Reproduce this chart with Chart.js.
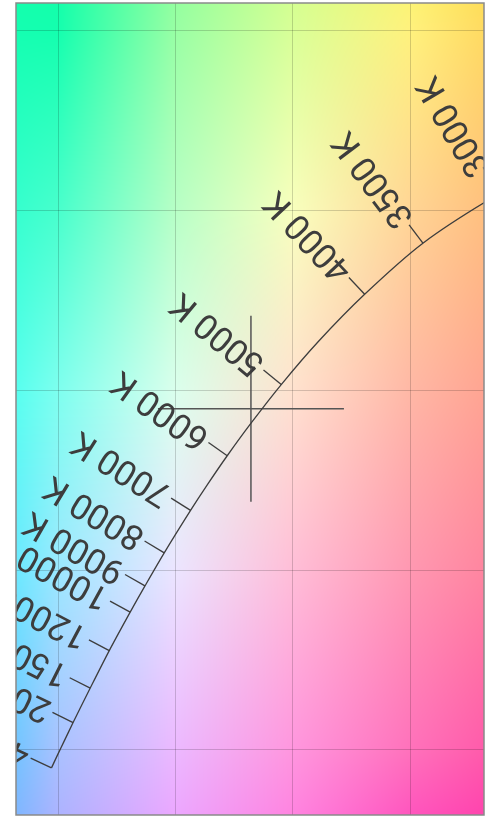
<!DOCTYPE html>
<html>
<head>
<meta charset="utf-8">
<script src="https://cdn.jsdelivr.net/npm/chart.js@4.4.1/dist/chart.umd.min.js"></script>
<style>
  body { margin: 0; background: #fff; }
  canvas { display: block; }
</style>
</head>
<body>
<canvas id="chart" width="494" height="816"></canvas>
<script>
// planckian locus in cie 1931 xy
let locusTemps = [2800, 3000, 3500, 4000, 4500, 5000, 5500, 6000, 6500, 7000, 8000, 9000, 10000, 12000, 15000, 20000, 25000, 30000, 40000];
let locusX = [0.4514, 0.4366, 0.4053, 0.3805, 0.3607, 0.3450, 0.3323, 0.3220, 0.3135, 0.3064, 0.2952, 0.2870, 0.2807, 0.2718, 0.2637, 0.2564, 0.2525, 0.2500, 0.2472];
let locusY = [0.4087, 0.4042, 0.3909, 0.3767, 0.3635, 0.3516, 0.3410, 0.3318, 0.3237, 0.3166, 0.3048, 0.2956, 0.2883, 0.2776, 0.2672, 0.2576, 0.2523, 0.2489, 0.2450];
let labelTemps = [3000, 3500, 4000, 5000, 6000, 7000, 8000, 9000, 10000, 12000, 15000, 20000, 40000];
let markerX = [0.3321];
let markerY = [0.3449];
let xTicks = [0.25, 0.30, 0.35, 0.40];
let yTicks = [0.25, 0.30, 0.35, 0.40, 0.45];

let inkColor = "#3d3d3d";
let colorStep = 0.05; // background sampled on a coarse xy grid, then blended
let whiteMix = 0.08;

// xy chromaticity -> display rgb (Y = 1, max channel normalised)
function xyToRgb(x, y) {
  let X = x / y;
  let Z = (1 - x - y) / y;
  let r = 3.2406 * X - 1.5372 - 0.4986 * Z;
  let g = -0.9689 * X + 1.8758 + 0.0415 * Z;
  let b = 0.0557 * X - 0.204 + 1.057 * Z;
  r = Math.max(r, 0);
  g = Math.max(g, 0);
  b = Math.max(b, 0);
  let m = Math.max(r, g, b);
  return [r / m, g / m, b / m].map((c) => {
    c = c <= 0.0031308 ? 12.92 * c : 1.055 * Math.pow(c, 1 / 2.4) - 0.055;
    return c * 255;
  });
}

function blendedColor(x, y) {
  let x0 = Math.floor(x / colorStep) * colorStep;
  let y0 = Math.floor(y / colorStep) * colorStep;
  let fx = (x - x0) / colorStep;
  let fy = (y - y0) / colorStep;
  let c00 = xyToRgb(x0, y0);
  let c10 = xyToRgb(x0 + colorStep, y0);
  let c01 = xyToRgb(x0, y0 + colorStep);
  let c11 = xyToRgb(x0 + colorStep, y0 + colorStep);
  let out = [];
  for (let k = 0; k < 3; k++) {
    let top = c01[k] * (1 - fx) + c11[k] * fx;
    let bot = c00[k] * (1 - fx) + c10[k] * fx;
    let v = bot * (1 - fy) + top * fy;
    out.push(v * (1 - whiteMix) + 255 * whiteMix);
  }
  return out;
}

let bgCache = null;
const chromaBackground = {
  id: "chromaBackground",
  beforeDraw(chart) {
    let area = chart.chartArea;
    let xs = chart.scales.x;
    let ys = chart.scales.y;
    let left = Math.floor(area.left);
    let top = Math.floor(area.top);
    let w = Math.ceil(area.right) - left;
    let h = Math.ceil(area.bottom) - top;
    if (!bgCache || bgCache.width != w || bgCache.height != h) {
      bgCache = chart.ctx.createImageData(w, h);
      let d = bgCache.data;
      for (let j = 0; j < h; j++) {
        let yv = ys.getValueForPixel(top + j + 0.5);
        for (let i = 0; i < w; i++) {
          let xv = xs.getValueForPixel(left + i + 0.5);
          let c = blendedColor(xv, yv);
          let k = (j * w + i) * 4;
          d[k] = c[0];
          d[k + 1] = c[1];
          d[k + 2] = c[2];
          d[k + 3] = 255;
        }
      }
    }
    chart.ctx.putImageData(bgCache, left, top);
  },
};

// temperature ticks + labels along the locus
const locusLabels = {
  id: "locusLabels",
  afterDatasetsDraw(chart) {
    let ctx = chart.ctx;
    let area = chart.chartArea;
    let xs = chart.scales.x;
    let ys = chart.scales.y;
    let px = (i) => [xs.getPixelForValue(locusX[i]), ys.getPixelForValue(locusY[i])];
    ctx.save();
    ctx.beginPath();
    ctx.rect(area.left, area.top, area.right - area.left, area.bottom - area.top);
    ctx.clip();
    ctx.strokeStyle = inkColor;
    ctx.fillStyle = inkColor;
    ctx.lineWidth = 1.3;
    ctx.font = "35px Roboto";
    ctx.textAlign = "left";
    ctx.textBaseline = "middle";
    for (let t of labelTemps) {
      let i = locusTemps.indexOf(t);
      let p = px(i);
      let a = px(Math.max(i - 1, 0));
      let b = px(Math.min(i + 1, locusTemps.length - 1));
      let dx = b[0] - a[0];
      let dy = b[1] - a[1];
      let len = Math.hypot(dx, dy);
      let nx = -dy / len;
      let ny = dx / len;
      let tickLen = 23;
      ctx.beginPath();
      ctx.moveTo(p[0], p[1]);
      ctx.lineTo(p[0] + nx * tickLen, p[1] + ny * tickLen);
      ctx.stroke();
      ctx.save();
      ctx.translate(p[0] + nx * (tickLen + 3), p[1] + ny * (tickLen + 3));
      ctx.rotate(Math.atan2(ny, nx));
      ctx.fillText(t + " K", 0, 0);
      ctx.restore();
    }
    ctx.restore();
  },
  afterDraw(chart) {
    let ctx = chart.ctx;
    let area = chart.chartArea;
    ctx.save();
    ctx.strokeStyle = "#8a8a8a";
    ctx.lineWidth = 1.5;
    ctx.strokeRect(area.left, area.top, area.right - area.left, area.bottom - area.top);
    ctx.restore();
  },
};

let locusData = locusX.map((x, i) => ({ x: x, y: locusY[i] }));
let markerData = markerX.map((x, i) => ({ x: x, y: markerY[i] }));

new Chart(document.getElementById("chart"), {
  type: "scatter",
  data: {
    datasets: [
      {
        label: "Planckian locus",
        data: locusData,
        showLine: true,
        borderColor: inkColor,
        borderWidth: 1.3,
        pointRadius: 0,
        tension: 0.3,
      },
      {
        label: "Sample",
        data: markerData,
        pointStyle: "cross",
        pointRadius: 93,
        borderColor: "#555",
        borderWidth: 1.5,
      },
    ],
  },
  options: {
    responsive: false,
    animation: false,
    events: [],
    layout: { autoPadding: false, padding: { left: 16, right: 10, top: 3, bottom: 1 } },
    plugins: { legend: { display: false }, tooltip: { enabled: false } },
    scales: {
      x: {
        min: 0.2321,
        max: 0.4313,
        afterBuildTicks: (s) => (s.ticks = xTicks.map((v) => ({ value: v }))),
        ticks: { display: false },
        grid: { color: "rgba(0,0,0,0.17)", drawTicks: false },
        border: { display: false },
      },
      y: {
        min: 0.2319,
        max: 0.4577,
        afterBuildTicks: (s) => (s.ticks = yTicks.map((v) => ({ value: v }))),
        ticks: { display: false },
        grid: { color: "rgba(0,0,0,0.17)", drawTicks: false },
        border: { display: false },
      },
    },
  },
  plugins: [chromaBackground, locusLabels],
});
</script>
</body>
</html>
